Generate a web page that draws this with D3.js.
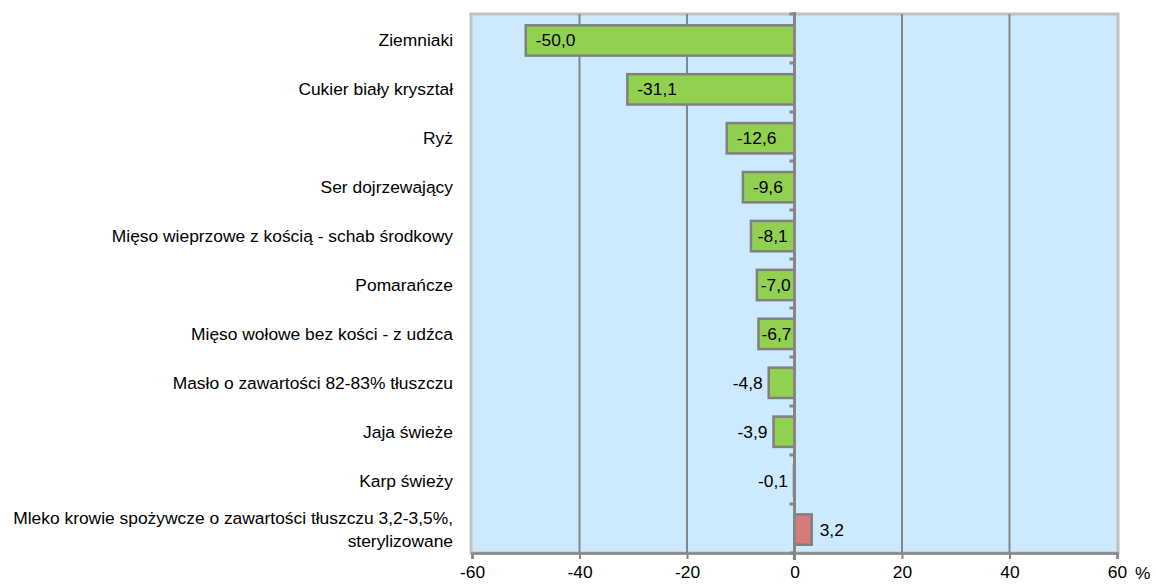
<!DOCTYPE html>
<meta charset='utf-8'>
<body style='margin:0;background:#fff'>
<script src='https://d3js.org/d3.v7.min.js'></script>
<script>
  const categories = [
    'Ziemniaki',
    'Cukier biały kryształ',
    'Ryż',
    'Ser dojrzewający ',
    'Mięso wieprzowe z kością - schab środkowy',
    'Pomarańcze',
    'Mięso wołowe bez kości - z udźca ',
    'Masło o zawartości 82-83% tłuszczu ',
    'Jaja świeże',
    'Karp świeży',
    'Mleko krowie spożywcze o zawartości tłuszczu 3,2-3,5%,|sterylizowane'
  ];
  const values = [-50.0, -31.1, -12.6, -9.6, -8.1, -7.0, -6.7, -4.8, -3.9, -0.1, 3.2];
  const xTicks = [-60, -40, -20, 0, 20, 40, 60];

  const W = 1156, H = 585;
  const plot = { left: 472, right: 1117, top: 14, bottom: 553 };
  const font = 'Liberation Sans, Arial, sans-serif';
  const fs = '17.4px';
  const fmt = d => d3.format('.1f')(d).replace('.', ',').replace('−', '-');

  const svg = d3.select('body').append('svg')
    .attr('width', W)
    .attr('height', H)
    .style('font-family', font);

  const x = d3.scaleLinear().domain([-60, 60]).range([plot.left, plot.right]);
  const y = d3.scaleBand().domain(categories).range([plot.top, plot.bottom])
    .paddingInner(0.38).paddingOuter(0.2);

  // background
  svg.append('rect')
    .attr('x', plot.left - 1).attr('y', plot.top)
    .attr('width', plot.right - plot.left + 2).attr('height', plot.bottom - plot.top)
    .attr('fill', '#cce9fe')
    .attr('stroke', '#c0c0c0')
    .attr('stroke-width', 3);

  // grid lines
  svg.append('g').selectAll('line')
    .data(xTicks.filter(d => d !== 0 && Math.abs(d) !== 60))
    .join('line')
      .attr('x1', d => x(d)).attr('x2', d => x(d))
      .attr('y1', plot.top).attr('y2', plot.bottom)
      .attr('stroke', '#868686')
      .attr('stroke-width', 2);

  // bottom axis
  const xAxis = svg.append('g')
    .attr('transform', `translate(0, ${plot.bottom})`)
    .call(d3.axisBottom(x).tickValues(xTicks).tickSize(6).tickPadding(7).tickFormat(d => d3.format('d')(d).replace('−', '-')));
  xAxis.select('.domain').attr('stroke', '#868686').attr('stroke-width', 2.5);
  xAxis.selectAll('.tick line').attr('stroke', '#868686').attr('stroke-width', 2);
  xAxis.selectAll('.tick text')
    .style('font-family', font).style('font-size', fs).attr('fill', '#000');

  svg.append('text')
    .attr('x', 1135).attr('y', 579)
    .style('font-size', fs)
    .text('%');

  // bars
  svg.append('g').selectAll('rect')
    .data(values)
    .join('rect')
      .attr('x', d => x(Math.min(0, d)))
      .attr('y', (d, i) => y(categories[i]) + 1.5)
      .attr('width', d => Math.abs(x(d) - x(0)))
      .attr('height', y.bandwidth())
      .attr('fill', d => d < 0 ? '#92d050' : '#d67b7b')
      .attr('stroke', '#808080')
      .attr('stroke-width', 2.5);

  // zero axis with ticks at band boundaries
  const zAxis = svg.append('g')
    .attr('transform', `translate(${x(0)}, 0)`);
  zAxis.append('line')
    .attr('y1', plot.top - 2).attr('y2', plot.bottom + 7)
    .attr('stroke', '#868686').attr('stroke-width', 3);
  zAxis.selectAll('line.t')
    .data(d3.range(0, categories.length + 1))
    .join('line')
      .attr('class', 't')
      .attr('x1', -5).attr('x2', 0)
      .attr('y1', i => plot.top + i * (plot.bottom - plot.top) / categories.length)
      .attr('y2', i => plot.top + i * (plot.bottom - plot.top) / categories.length)
      .attr('stroke', '#868686').attr('stroke-width', 3);

  // value labels
  svg.append('g').selectAll('text')
    .data(values)
    .join('text')
      .attr('y', (d, i) => y(categories[i]) + y.bandwidth() / 2 + 7.5)
      .style('font-size', fs)
      .attr('fill', '#000')
      .each(function(d) {
        const t = d3.select(this).text(fmt(d));
        const w = this.getComputedTextLength();
        const barW = Math.abs(x(d) - x(0));
        if (d > 0) {
          t.attr('x', x(d) + 8).attr('text-anchor', 'start');
        } else if (barW > w + 2) {
          const c = Math.min(x(d) + 10 + w / 2, (x(d) + x(0)) / 2);
          t.attr('x', c).attr('text-anchor', 'middle');
        } else {
          t.attr('x', x(d) - 6).attr('text-anchor', 'end');
        }
      });

  // category labels
  svg.append('g').selectAll('text')
    .data(categories)
    .join('text')
      .attr('text-anchor', 'end')
      .style('font-size', fs)
      .attr('fill', '#000')
      .each(function(d) {
        const lines = d.split('|');
        const cy = y(d) + y.bandwidth() / 2 + 1.5;
        const lh = 23;
        const t = d3.select(this);
        lines.forEach((l, k) => {
          t.append('tspan')
            .attr('x', 453)
            .attr('y', cy + 6 + (k - (lines.length - 1) / 2) * lh)
            .text(l);
        });
      });
</script>
